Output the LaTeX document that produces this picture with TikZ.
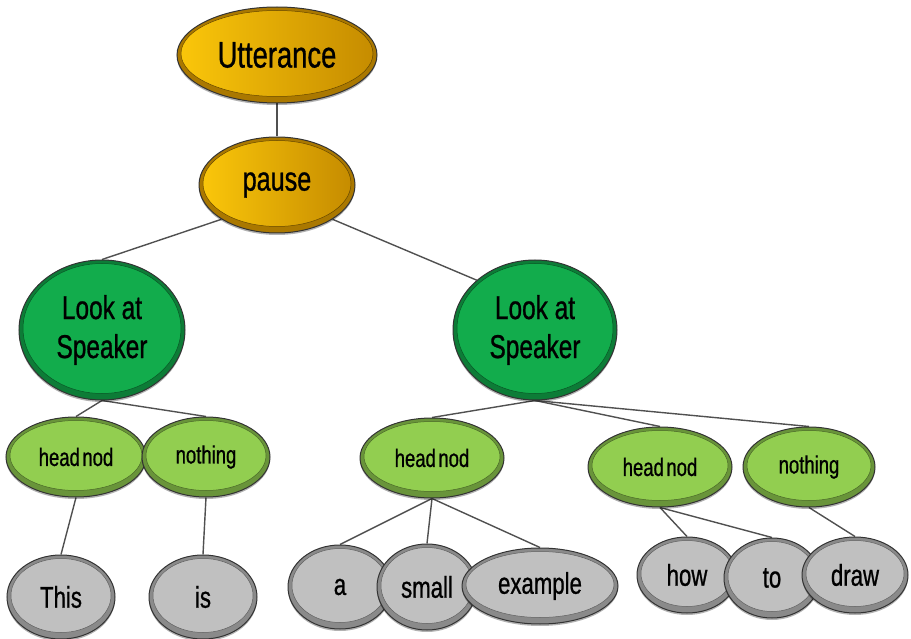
\documentclass[tikz,border=0pt]{standalone}
\usepackage{fontspec}
\setmainfont{Liberation Sans}[FakeStretch=0.74, FakeBold=0.8]
\usetikzlibrary{shapes.geometric,shadows,backgrounds,calc}

\definecolor{goldA}{RGB}{250,198,10}
\definecolor{goldB}{RGB}{198,140,0}
\definecolor{goldRim}{RGB}{170,120,0}
\definecolor{leaf}{RGB}{18,172,76}
\definecolor{lime}{RGB}{146,206,80}
\definecolor{stone}{RGB}{192,192,192}
\definecolor{wire}{RGB}{80,80,80}

\tikzset{
  bubble/.style={ellipse, inner sep=0pt, draw=black!80, line width=1pt,
    drop shadow={shadow xshift=0pt, shadow yshift=-2pt, opacity=0.3, fill=black}},
  % bevelled face: darker rim, lighter raised centre
  rim/.style={path picture={
      \fill[#1!72!black] (path picture bounding box.south west)
        rectangle (path picture bounding box.north east);
      \filldraw[fill=#1, draw=#1!50!black, line width=0.5pt]
        let \p1=(path picture bounding box.north east),
            \p2=(path picture bounding box.center)
        in ([yshift=1.5pt]\p2) ellipse ({\x1-\x2-4pt} and {\y1-\y2-5pt});}},
  goldrim/.style={path picture={
      \fill[goldRim] (path picture bounding box.south west)
        rectangle (path picture bounding box.north east);
      \shadedraw[left color=goldA, right color=goldB, draw=goldRim!60!black, line width=0.5pt]
        let \p1=(path picture bounding box.north east),
            \p2=(path picture bounding box.center)
        in ([yshift=1.5pt]\p2) ellipse ({\x1-\x2-4pt} and {\y1-\y2-5pt});}},
  topnode/.style={bubble, goldrim},
  gaze/.style={bubble, rim=leaf, align=center, font=\fontsize{33}{39}\selectfont},
  gesture/.style={bubble, rim=lime, font=\fontsize{25}{28}\selectfont},
  word/.style={bubble, rim=stone, font=\fontsize{30}{32}\selectfont},
  link/.style={draw=wire, line width=1.4pt},
}

\begin{document}
\begin{tikzpicture}[x=1pt, y=-1pt]
\useasboundingbox (0,0) rectangle (911,639);

% top of the tree
\node[topnode, minimum width=200, minimum height=96, font=\fontsize{37}{40}\selectfont] (utt) at (277,55) {Utterance};
\node[topnode, minimum width=156, minimum height=96, font=\fontsize{34}{38}\selectfont] (pause) at (277,185) {pause};

% gaze level
\node[gaze, minimum width=166, minimum height=140] (lasL) at (102,330) {Look at\\Speaker};
\node[gaze, minimum width=164, minimum height=140] (lasR) at (535,330) {Look at\\Speaker};

% gesture level
\node[gesture, minimum width=140, minimum height=80] (hnL) at (76,457) {head\hspace{2.5pt}nod};
\node[gesture, minimum width=128, minimum height=80] (nothL) at (206,457) {nothing};
\node[gesture, minimum width=144, minimum height=80] (hnM) at (432,458) {head\hspace{2.5pt}nod};
\node[gesture, minimum width=144, minimum height=80] (hnR) at (660,467) {head\hspace{2.5pt}nod};
\node[gesture, minimum width=132, minimum height=80] (nothR) at (809,467) {nothing};

% words
\node[word, minimum width=108, minimum height=84] (wThis) at (61,597) {This};
\node[word, minimum width=108, minimum height=84] (wIs) at (203,597) {is};
\node[word, minimum width=104, minimum height=84] (wA) at (340,587) {a};
\node[word, minimum width=100, minimum height=86] (wSmall) at (427,587) {small};
\node[word, minimum width=156, minimum height=76] (wExample) at (540,586) {example};
\node[word, minimum width=100, minimum height=76] (wHow) at (687,575) {how};
\node[word, minimum width=96, minimum height=80] (wTo) at (772,578) {to};
\node[word, minimum width=106, minimum height=76] (wDraw) at (855,575) {draw};

% connectors behind the bubbles
\begin{pgfonlayer}{background}
  \draw[link] (utt.south) -- (pause.north);
  \draw[link] (pause.south west) -- (lasL.north);
  \draw[link] (pause.south east) -- (lasR.north west);
  \draw[link] (lasL.south) -- (hnL.north);
  \draw[link] (lasL.south) -- (nothL.north);
  \draw[link] (lasR.south) -- (hnM.north);
  \draw[link] (lasR.south) -- (hnR.north);
  \draw[link] (lasR.south) -- (nothR.north);
  \draw[link] (hnL.south) -- (wThis.north);
  \draw[link] (nothL.south) -- (wIs.north);
  \draw[link] (hnM.south) -- (wA.north);
  \draw[link] (hnM.south) -- (wSmall.north);
  \draw[link] (hnM.south) -- (wExample.north);
  \draw[link] (hnR.south) -- (wHow.north);
  \draw[link] (hnR.south) -- (wTo.north);
  \draw[link] (nothR.south) -- (wDraw.north);
\end{pgfonlayer}
\end{tikzpicture}
\end{document}
